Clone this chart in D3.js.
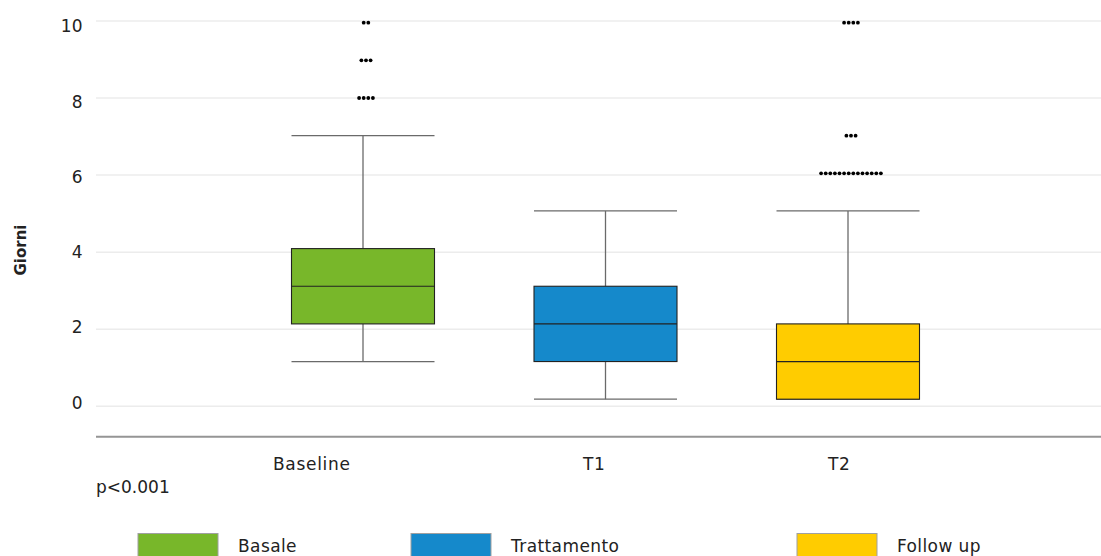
<!DOCTYPE html>
<html>
<head>
<meta charset="utf-8">
<script src="https://cdn.jsdelivr.net/npm/d3@7"></script>
<style>
  html, body { margin: 0; padding: 0; background: #fff; }
  svg { display: block; }
  text { font-family: "DejaVu Sans", sans-serif; fill: #222; }
</style>
</head>
<body>
<svg id="chart" width="1101" height="556"></svg>
<script>
// ---- data ----
const categories = ["Baseline", "T1", "T2"];
const legendLabels = ["Basale", "Trattamento", "Follow up"];
const seriesColors = ["#78b72a", "#1589cb", "#ffcc00"];
const whiskerLow = [1, 0, 0];
const q1Values = [2, 1, 0];
const medianValues = [3, 2, 1];
const q3Values = [4, 3, 2];
const whiskerHigh = [7, 5, 5];
const outlierValues = [[8, 9, 10], [], [6, 7, 10]];
const outlierCounts = [[4, 3, 2], [], [14, 3, 4]];
const yTicks = [0, 2, 4, 6, 8, 10];
const yLabel = "Giorni";
const noteText = "p<0.001";

// ---- layout ----
const W = 1101, H = 556;
const svg = d3.select("#chart");

const y = d3.scaleLinear().domain([0, 10]).range([399.2, 22.7]);
const yGrid = d3.scaleLinear().domain([0, 10]).range([406.3, 21]);
const x = d3.scalePoint().domain(categories).range([363, 848]);
const labelX = d3.scaleOrdinal().domain(categories).range([273, 583, 828]);
const legendX = d3.scaleOrdinal().domain(legendLabels).range([138, 411, 797]);
const boxW = 143;

// gridlines
svg.append("g").selectAll("line").data(yTicks).join("line")
  .attr("x1", 96).attr("x2", W)
  .attr("y1", d => yGrid(d)).attr("y2", d => yGrid(d))
  .attr("stroke", "#ececec").attr("stroke-width", 1.5);

// y tick labels
svg.append("g").selectAll("text").data(yTicks).join("text")
  .attr("x", 82.5).attr("y", d => y(d) + 9.5)
  .attr("text-anchor", "end")
  .attr("font-size", 17)
  .text(d => d);

// y axis title
svg.append("text")
  .attr("transform", "translate(26,250) rotate(-90)")
  .attr("text-anchor", "middle")
  .attr("font-size", 15)
  .attr("font-weight", 600)
  .text(yLabel);

// x axis line
svg.append("line")
  .attr("x1", 96).attr("x2", W).attr("y1", 436.7).attr("y2", 436.7)
  .attr("stroke", "#959595").attr("stroke-width", 2);

// boxes
const boxes = categories.map((c, i) => ({
  c, i, lo: whiskerLow[i], q1: q1Values[i], med: medianValues[i],
  q3: q3Values[i], hi: whiskerHigh[i], color: seriesColors[i]
}));

const g = svg.append("g");
boxes.forEach(b => {
  const cx = x(b.c);
  const bg = g.append("g");
  bg.append("line").attr("x1", cx).attr("x2", cx)
    .attr("y1", y(b.hi)).attr("y2", y(b.q3))
    .attr("stroke", "#6a6a6a").attr("stroke-width", 1.3);
  bg.append("line").attr("x1", cx).attr("x2", cx)
    .attr("y1", y(b.q1)).attr("y2", y(b.lo))
    .attr("stroke", "#6a6a6a").attr("stroke-width", 1.3);
  [b.hi, b.lo].forEach(v => {
    bg.append("line").attr("x1", cx - boxW / 2).attr("x2", cx + boxW / 2)
      .attr("y1", y(v)).attr("y2", y(v))
      .attr("stroke", "#6a6a6a").attr("stroke-width", 1.3);
  });
  bg.append("rect")
    .attr("x", cx - boxW / 2).attr("width", boxW)
    .attr("y", y(b.q3)).attr("height", y(b.q1) - y(b.q3))
    .attr("fill", b.color).attr("stroke", "#222").attr("stroke-width", 1.1);
  bg.append("line").attr("x1", cx - boxW / 2).attr("x2", cx + boxW / 2)
    .attr("y1", y(b.med)).attr("y2", y(b.med))
    .attr("stroke", "#222").attr("stroke-width", 1.2);
});

// outliers
const dots = [];
categories.forEach((c, i) => {
  outlierValues[i].forEach((v, k) => {
    const n = outlierCounts[i][k];
    for (let j = 0; j < n; j++) dots.push({ c, v, j, n });
  });
});
svg.append("g").selectAll("circle").data(dots).join("circle")
  .attr("cx", d => x(d.c) + 3 + (d.j - (d.n - 1) / 2) * 4.6)
  .attr("cy", d => y(d.v))
  .attr("r", 1.9)
  .attr("fill", "#000");

// x category labels
svg.append("g").selectAll("text").data(categories).join("text")
  .attr("x", d => labelX(d)).attr("y", 470)
  .attr("font-size", 17)
  .attr("letter-spacing", 0.7)
  .text(d => d);

// note
svg.append("text").attr("x", 96).attr("y", 493.3)
  .attr("font-size", 17).text(noteText);

// legend
const lg = svg.append("g").selectAll("g").data(legendLabels).join("g");
lg.append("rect")
  .attr("x", d => legendX(d)).attr("y", 533.5)
  .attr("width", 80).attr("height", 30)
  .attr("fill", (d, i) => seriesColors[i])
  .attr("stroke", "#a0a0a0").attr("stroke-width", 1);
lg.append("text")
  .attr("x", d => legendX(d) + 100).attr("y", 552)
  .attr("font-size", 17)
  .attr("letter-spacing", 0.4)
  .text(d => d);
</script>
</body>
</html>
